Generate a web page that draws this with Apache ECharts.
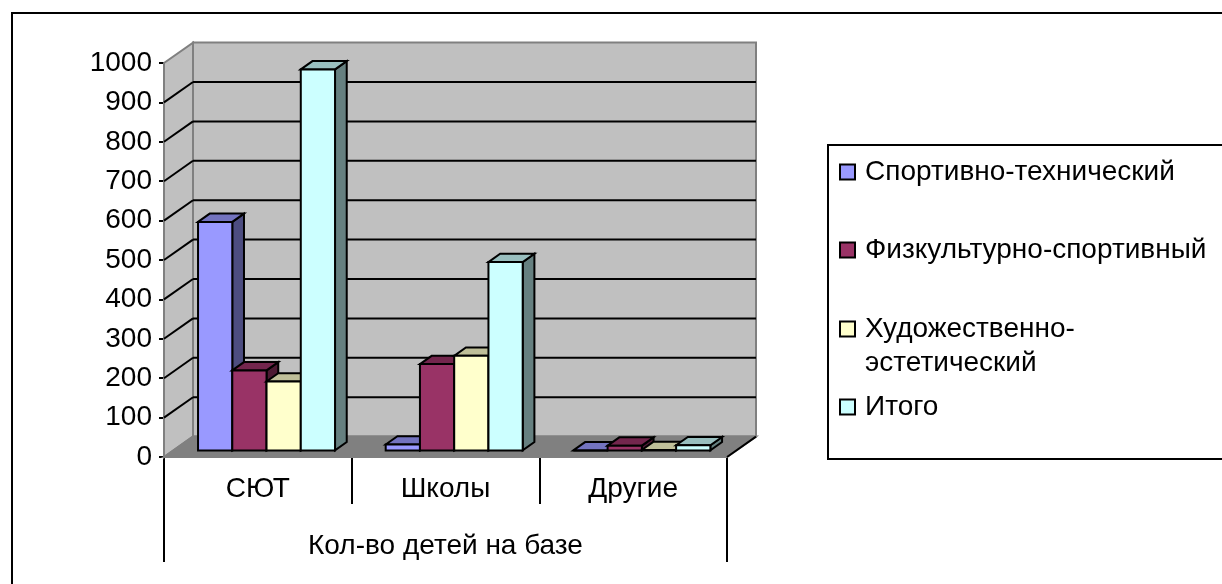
<!DOCTYPE html>
<html>
<head>
<meta charset="utf-8">
<style>
  html, body { margin: 0; padding: 0; background: #fff; overflow: hidden; }
  #J_chartBox { width: 1222px; height: 584px; }
</style>
<script src="https://cdn.jsdelivr.net/npm/echarts@6/dist/echarts.min.js"></script>
</head>
<body>
<div id="J_chartBox"></div>
<script>
  var categories = ['СЮТ', 'Школы', 'Другие']
  var groupLabel = ['Кол-во детей на базе']
  var seriesNames = ['Спортивно-технический', 'Физкультурно-спортивный', 'Художественно-эстетический', 'Итого']
  var sportValues = [580, 15, 0]
  var fizkValues = [203, 219, 12]
  var hudValues = [175, 240, 1]
  var totalValues = [967, 478, 13]
  var gridValues = [100, 200, 300, 400, 500, 600, 700, 800, 900]

  // front, top and side colours of each series
  var faces = [
    ['#9999FF', '#7373BF', '#4D4D80'],
    ['#993366', '#73264D', '#4D1A33'],
    ['#FFFFCC', '#BFBF99', '#808066'],
    ['#CCFFFF', '#99BFBF', '#668080']
  ]
  var legendTops = [155, 233, 278, 390]

  var font = 'Liberation Sans'
  var fontSize = 28
  var wallDx = 29
  var wallDy = -20.4
  var frontDy = -6.6
  var depthDx = 11.7
  var depthDy = -8.3
  var barRatio = 0.1825
  var groupShift = 8.7

  function poly (points, fill, stroke) {
    return {
      type: 'polygon',
      shape: { points: points },
      style: { fill: fill, stroke: stroke, lineWidth: 2, lineJoin: 'miter' }
    }
  }

  function line (x1, y1, x2, y2, stroke) {
    return {
      type: 'line',
      shape: { x1: x1, y1: y1, x2: x2, y2: y2 },
      style: { stroke: stroke, lineWidth: 2 }
    }
  }

  // side wall, back wall and floor
  function renderWalls (params) {
    var c = params.coordSys
    var l = c.x
    var r = c.x + c.width
    var t = c.y
    var b = c.y + c.height
    return {
      type: 'group',
      children: [
        poly([[l + wallDx, t + wallDy], [r + wallDx, t + wallDy], [r + wallDx, b + wallDy], [l + wallDx, b + wallDy]], '#C0C0C0', '#808080'),
        poly([[l, t], [l + wallDx, t + wallDy], [l + wallDx, b + wallDy], [l, b]], '#C0C0C0', '#808080'),
        poly([[l, b], [l + wallDx, b + wallDy], [r + wallDx, b + wallDy], [r, b]], '#808080', '#808080'),
        line(r, b, r + wallDx, b + wallDy, '#000')
      ]
    }
  }

  function renderGridLine (params, api) {
    var c = params.coordSys
    var y = api.coord([0, api.value(0)])[1]
    return {
      type: 'group',
      children: [
        line(c.x, y, c.x + wallDx, y + wallDy, '#000'),
        line(c.x + wallDx, y + wallDy, c.x + c.width + wallDx, y + wallDy, '#000')
      ]
    }
  }

  function barRenderer (idx) {
    return function (params, api) {
      var cat = api.value(0)
      var w = api.size([1, 0])[0] * barRatio
      var base = api.coord([cat, 0])
      var top = api.coord([cat, api.value(1)])
      var x1 = base[0] + groupShift - 2 * w + idx * w
      var x2 = x1 + w
      var y1 = top[1] + frontDy
      var y2 = base[1] + frontDy
      var f = faces[idx]
      return {
        type: 'group',
        children: [
          poly([[x2, y1], [x2 + depthDx, y1 + depthDy], [x2 + depthDx, y2 + depthDy], [x2, y2]], f[2], '#000'),
          poly([[x1, y1], [x1 + depthDx, y1 + depthDy], [x2 + depthDx, y1 + depthDy], [x2, y1]], f[1], '#000'),
          poly([[x1, y1], [x2, y1], [x2, y2], [x1, y2]], f[0], '#000')
        ]
      }
    }
  }

  function barData (values) {
    return values.map(function (v, i) { return [i, v] })
  }

  function makeBarSeries (idx, values) {
    return {
      name: seriesNames[idx],
      type: 'custom',
      renderItem: barRenderer(idx),
      data: barData(values),
      encode: { x: 0, y: 1 },
      itemStyle: { color: faces[idx][0] }
    }
  }

  function makeLegend (idx) {
    return {
      data: [seriesNames[idx]],
      left: 839,
      top: legendTops[idx],
      padding: 0,
      icon: 'rect',
      itemWidth: 15,
      itemHeight: 15,
      itemStyle: { borderColor: '#000', borderWidth: 2 },
      formatter: function (name) {
        // blank first line keeps the marker level with the first text line
        return name === seriesNames[2] ? '\nХудожественно-\nэстетический' : name
      },
      textStyle: {
        fontFamily: font,
        fontSize: fontSize,
        color: '#000',
        lineHeight: 34,
        padding: [0, 0, 0, 5]
      }
    }
  }

  var option = {
    animation: false,
    backgroundColor: '#fff',
    textStyle: { fontFamily: font },
    grid: { left: 164, right: 495, top: 63, bottom: 127 },
    legend: [makeLegend(0), makeLegend(1), makeLegend(2), makeLegend(3)],
    graphic: [
      { type: 'rect', silent: true, shape: { x: 12, y: 13, width: 1300, height: 700 }, style: { fill: 'none', stroke: '#000', lineWidth: 2 } },
      { type: 'rect', silent: true, shape: { x: 828, y: 145, width: 500, height: 314 }, style: { fill: '#fff', stroke: '#000', lineWidth: 2 } }
    ],
    xAxis: [
      {
        type: 'category',
        data: categories,
        axisLine: { lineStyle: { color: '#000', width: 2 } },
        axisTick: { show: true, length: 47, lineStyle: { color: '#000', width: 2 } },
        axisLabel: { color: '#000', fontFamily: font, fontSize: fontSize, margin: 18 }
      },
      {
        type: 'category',
        data: groupLabel,
        position: 'bottom',
        axisLine: { show: false },
        axisTick: { show: true, length: 105, lineStyle: { color: '#000', width: 2 } },
        axisLabel: { color: '#000', fontFamily: font, fontSize: fontSize, margin: 75 }
      }
    ],
    yAxis: {
      type: 'value',
      min: 0,
      max: 1000,
      interval: 100,
      splitLine: { show: false },
      axisLine: { show: true, lineStyle: { color: '#000', width: 2 } },
      axisTick: { show: true, length: 5, lineStyle: { color: '#000', width: 2 } },
      axisLabel: {
        color: '#000',
        fontFamily: font,
        fontSize: fontSize,
        margin: 12,
        formatter: function (v) { return String(v) }
      }
    },
    series: [
      { type: 'custom', renderItem: renderWalls, data: [[0, 0]], encode: { x: 0, y: 1 }, silent: true, z: 1 },
      { type: 'custom', renderItem: renderGridLine, data: gridValues.map(function (v) { return [v] }), encode: { y: 0 }, silent: true, z: 1 },
      makeBarSeries(0, sportValues),
      makeBarSeries(1, fizkValues),
      makeBarSeries(2, hudValues),
      makeBarSeries(3, totalValues)
    ]
  }

  var chart = echarts.init(document.getElementById('J_chartBox'))
  chart.setOption(option)
</script>
</body>
</html>
